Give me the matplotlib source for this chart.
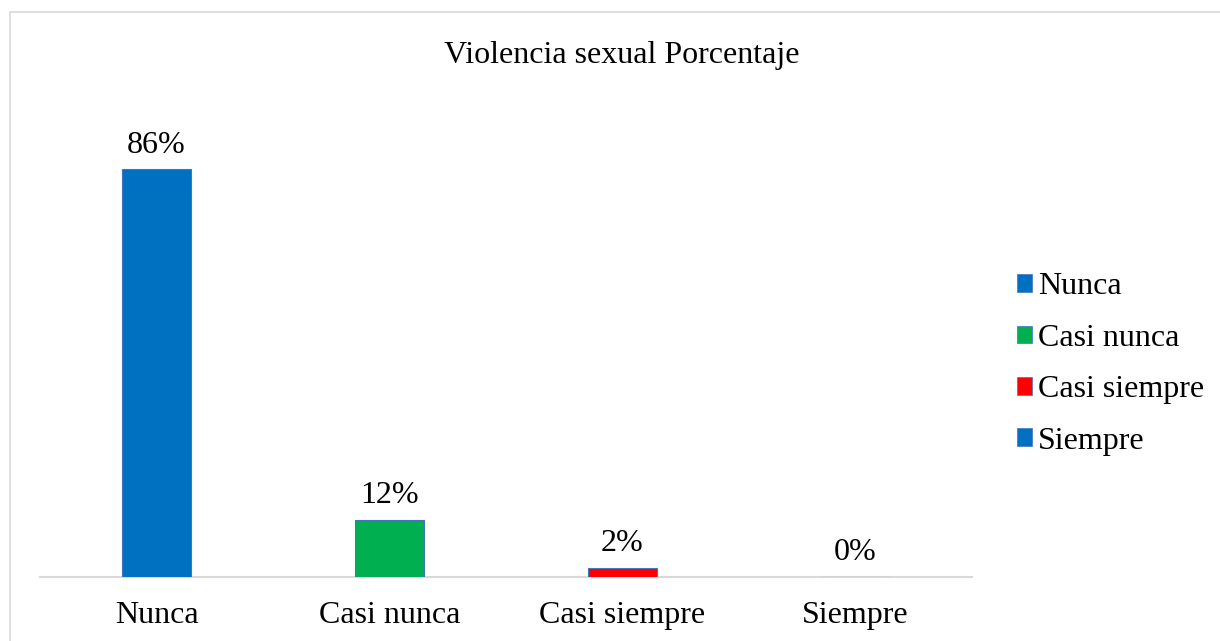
import matplotlib
matplotlib.use("Agg")
import matplotlib.pyplot as plt
from matplotlib.patches import Patch, Rectangle

categories = ["Nunca", "Casi nunca", "Casi siempre", "Siempre"]
values = [86, 12, 2, 0]
labels = ["86%", "12%", "2%", "0%"]
colors = ["#0070C0", "#00B050", "#FF0000", "#0070C0"]
title = "Violencia sexual Porcentaje"

plt.rcParams['font.family'] = ['Liberation Serif', 'DejaVu Serif']
FS = 23

W, H = 1220, 641
fig = plt.figure(figsize=(W / 100, H / 100), dpi=100)
fig.patch.set_facecolor("white")

# outer chart border
fig.add_artist(Rectangle((10 / W, -0.01), 1.2, 1 - 12 / H + 0.01, transform=fig.transFigure,
                         fill=False, edgecolor="#D9D9D9", linewidth=1.2))

ax = fig.add_axes([40 / W, 64 / H, (972 - 40) / W, (577 - 103) / H])
x = range(len(categories))
ax.bar(x, values, width=0.30, color=colors, edgecolor="#4472C4", linewidth=0.8, zorder=3)
ax.set_xlim(-0.5, len(categories) - 0.5)
ax.set_ylim(0, 100)
for xi, v, lab in zip(x, values, labels):
    ax.annotate(lab, (xi, v), xytext=(0, 12), textcoords="offset points",
                ha="center", va="baseline", fontsize=FS, color="#000000")

ax.set_xticks(list(x))
ax.set_xticklabels(categories, fontsize=FS)
ax.tick_params(axis="x", length=0, pad=17.5)
ax.set_yticks([])
for s in ["top", "right", "left"]:
    ax.spines[s].set_visible(False)
ax.spines["bottom"].set_color("#D9D9D9")
ax.spines["bottom"].set_linewidth(1.5)

fig.text(622 / W, 1 - 55 / H, title, ha="center", va="center", fontsize=FS)

handles = [Patch(facecolor=c, edgecolor="#4472C4", linewidth=0.5) for c in colors]
fig.legend(handles, categories, loc="center left", bbox_to_anchor=(1001 / W, 1 - 364 / H),
           frameon=False, fontsize=FS, handlelength=0.47, handleheight=0.47,
           handletextpad=0.2, labelspacing=0.7, borderpad=0)

fig.savefig("out.png", dpi=100)
